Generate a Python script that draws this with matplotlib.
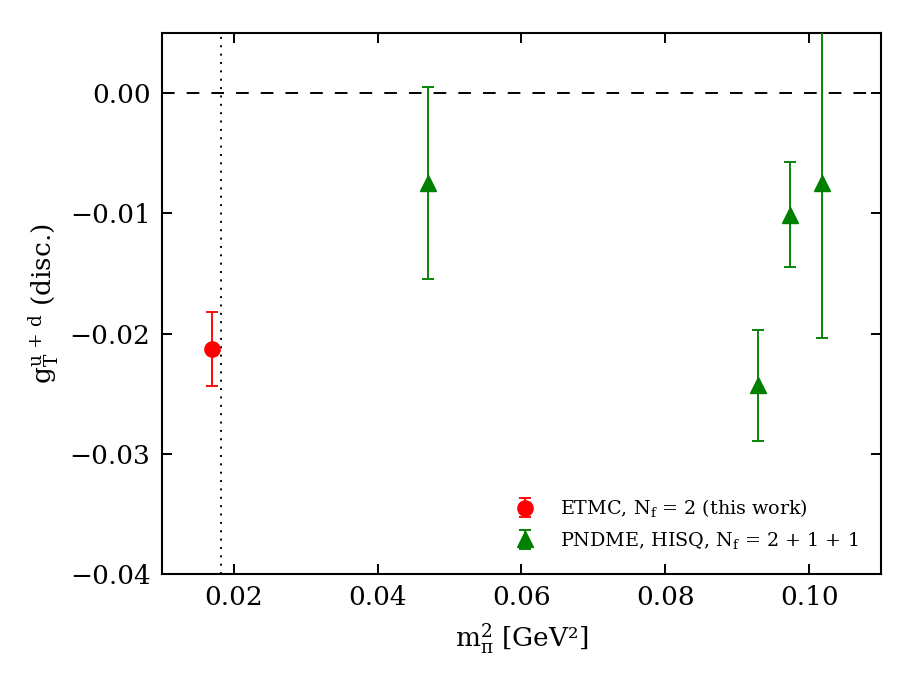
import matplotlib
matplotlib.use("Agg")
import matplotlib.pyplot as plt
from matplotlib.ticker import FuncFormatter

plt.rcParams['font.family'] = ['DejaVu Serif']
plt.rcParams['mathtext.fontset'] = 'dejavuserif'

# Data
etmc_x = [0.0170]
etmc_y = [-0.0213]
etmc_err = [0.0031]

pndme_x = [0.0470, 0.0929, 0.0973, 0.1018]
pndme_y = [-0.00745, -0.0243, -0.0101, -0.0075]
pndme_err = [0.0080, 0.0046, 0.0044, 0.0129]

phys_point = 0.0182

xticks = [0.02, 0.04, 0.06, 0.08, 0.10]
yticks = [-0.04, -0.03, -0.02, -0.01, 0.00]

fig = plt.figure(figsize=(9, 6.75), dpi=100)
ax = fig.add_axes([0.1797, 0.1496, 0.979 - 0.1797, 0.951 - 0.1496])

ax.axhline(0.0, color='black', ls=(0, (6.5, 6.2)), lw=1.4, zorder=1)
ax.axvline(phys_point, color='black', ls=(0, (1, 3.3)), lw=1.4, zorder=1)

ax.errorbar(etmc_x, etmc_y, yerr=etmc_err, fmt='o', color='#ff0000', ms=11,
            capsize=4.5, elinewidth=1.35, capthick=1.35,
            label=r'ETMC, $\mathrm{N_f}$ = 2 (this work)', zorder=3)
ax.errorbar(pndme_x, pndme_y, yerr=pndme_err, fmt='^', color='green', ms=11,
            capsize=4.5, elinewidth=1.35, capthick=1.35,
            label=r'PNDME, HISQ, $\mathrm{N_f}$ = 2 + 1 + 1', zorder=3)

ax.set_xlim(0.01, 0.11)
ax.set_ylim(-0.04, 0.005)
ax.set_xticks(xticks)
ax.set_yticks(yticks)
fmt = FuncFormatter(lambda v, p: ('%.2f' % v).replace('-', '\u2212') if abs(v) > 1e-12 else '0.00')
ax.xaxis.set_major_formatter(fmt)
ax.yaxis.set_major_formatter(fmt)

ax.tick_params(direction='in', top=True, right=True, length=7, width=1.4,
               labelsize=19, pad=8)
for s in ax.spines.values():
    s.set_linewidth(1.5)

ax.set_xlabel(r'$\mathrm{m}_{\mathrm{\pi}}^{2}$ [GeV²]', fontsize=19, labelpad=8)
ax.set_ylabel(r'$\mathrm{g_T^{u\,+\,d}}$ (disc.)', fontsize=19, labelpad=6)

leg = ax.legend(loc='lower right', frameon=False, fontsize=13.8, numpoints=1,
                handletextpad=0.8, borderaxespad=0.8, labelspacing=0.55)

fig.savefig('out.png', dpi=100)
